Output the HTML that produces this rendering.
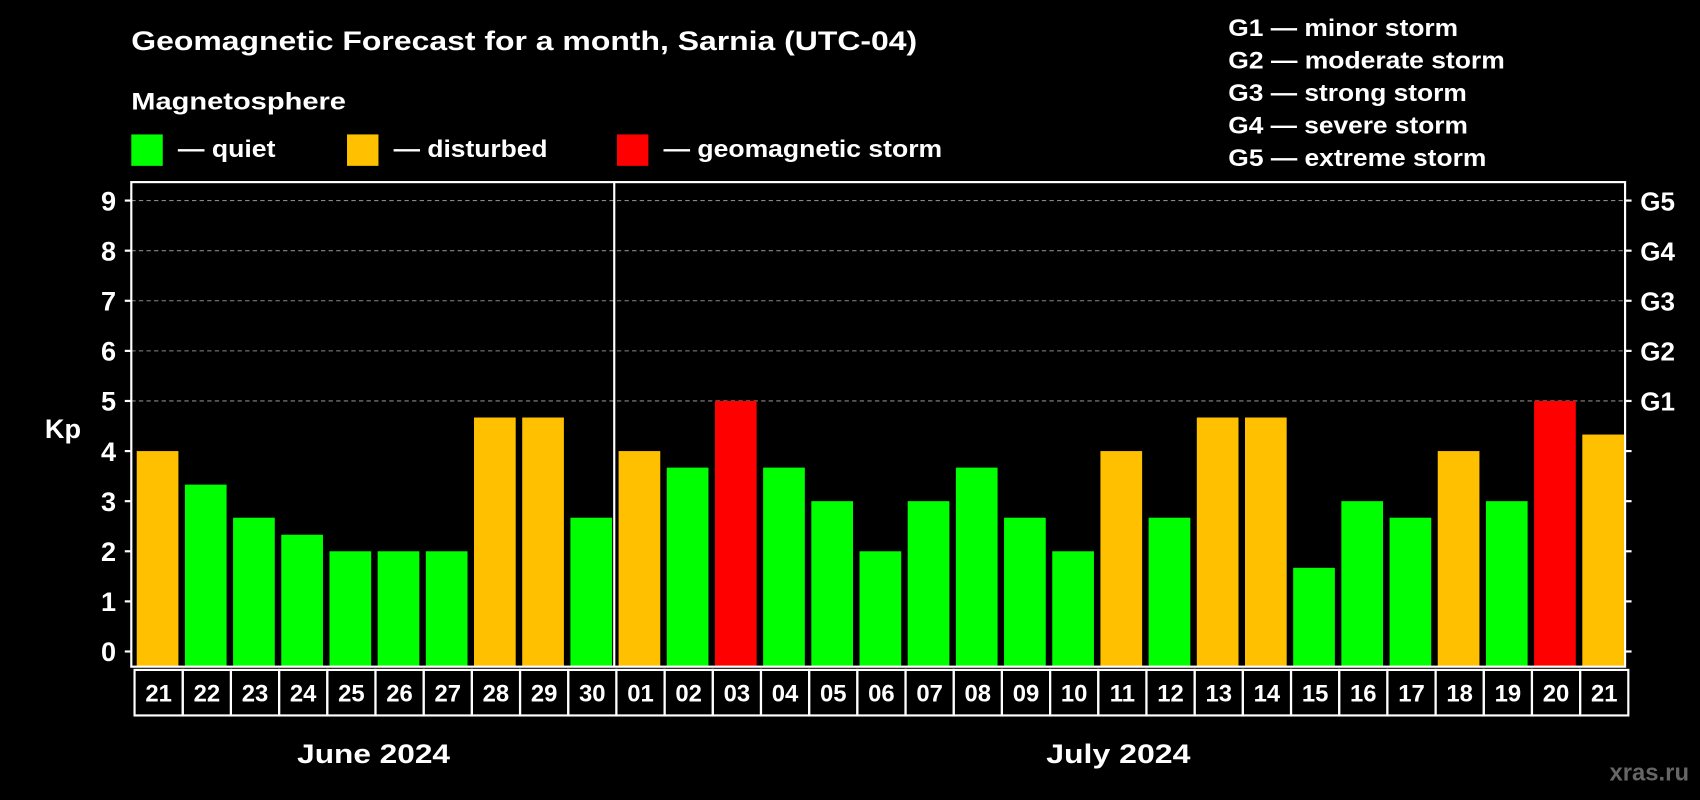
<!DOCTYPE html>
<html><head><meta charset="utf-8"><style>html,body{margin:0;padding:0;background:#000;}svg{display:block;font-family:"Liberation Sans",sans-serif;font-weight:bold;}</style></head>
<body>
<svg id="c" width="1700" height="800" viewBox="0 0 1568 738">
<rect width="1568" height="738" fill="#000"/>
<text x="121" y="46" fill="#fff" font-size="25" textLength="725" lengthAdjust="spacingAndGlyphs">Geomagnetic Forecast for a month, Sarnia (UTC-04)</text>
<text x="121" y="101" fill="#fff" font-size="22" textLength="198" lengthAdjust="spacingAndGlyphs">Magnetosphere</text>
<g><rect x="121" y="124" width="29" height="29" fill="#00ff00"/><text x="164" y="145" fill="#fff" font-size="22" textLength="90" lengthAdjust="spacingAndGlyphs">— quiet</text></g>
<g><rect x="320" y="124" width="29" height="29" fill="#ffc000"/><text x="363" y="145" fill="#fff" font-size="22" textLength="142" lengthAdjust="spacingAndGlyphs">— disturbed</text></g>
<g><rect x="569" y="124" width="29" height="29" fill="#ff0000"/><text x="612" y="145" fill="#fff" font-size="22" textLength="257" lengthAdjust="spacingAndGlyphs">— geomagnetic storm</text></g>
<g fill="#fff" font-size="22">
<text x="1133" y="33" textLength="212" lengthAdjust="spacingAndGlyphs">G1 — minor storm</text><text x="1133" y="63" textLength="255" lengthAdjust="spacingAndGlyphs">G2 — moderate storm</text><text x="1133" y="93" textLength="220" lengthAdjust="spacingAndGlyphs">G3 — strong storm</text><text x="1133" y="123" textLength="221" lengthAdjust="spacingAndGlyphs">G4 — severe storm</text><text x="1133" y="153" textLength="238" lengthAdjust="spacingAndGlyphs">G5 — extreme storm</text></g>
<text x="58" y="404" fill="#fff" font-size="25" text-anchor="middle">Kp</text>
<g id="plot"></g>
<text x="274" y="704" fill="#fff" font-size="25" textLength="141" lengthAdjust="spacingAndGlyphs">June 2024</text>
<text x="965" y="704" fill="#fff" font-size="25" textLength="133" lengthAdjust="spacingAndGlyphs">July 2024</text>
<text x="1558" y="720" fill="#666" font-size="22" text-anchor="end">xras.ru</text>
</svg>
<script>
const days=["21","22","23","24","25","26","27","28","29","30","01","02","03","04","05","06","07","08","09","10","11","12","13","14","15","16","17","18","19","20","21"];
const kp=[4,3.33,2.67,2.33,2,2,2,4.67,4.67,2.67,4,3.67,5,3.67,3,2,3,3.67,2.67,2,4,2.67,4.67,4.67,1.67,3,2.67,4,3,5,4.33];
const yTicks=[0,1,2,3,4,5,6,7,8,9];
const gLabels=["G1","G2","G3","G4","G5"];
const NS="http://www.w3.org/2000/svg";
const g=document.getElementById('plot');
const L=121,R=1499,T=168,B=615;
const y=v=>601-v*46.22;
const bw=(R-L)/days.length;
const x=i=>L+i*bw;
function mk(t,a,txt){const e=document.createElementNS(NS,t);for(const k in a)e.setAttribute(k,a[k]);if(txt!==undefined)e.textContent=txt;g.appendChild(e);return e;}
yTicks.forEach(v=>{
 if(v>=5){const gl=mk('line',{x1:L,x2:R,y1:y(v),y2:y(v),stroke:'#888','stroke-dasharray':'4,3'});
 
 }
 mk('line',{x1:L-6,x2:L,y1:y(v),y2:y(v),stroke:'#fff','stroke-width':2});
 mk('line',{x1:R,x2:R+6,y1:y(v),y2:y(v),stroke:'#fff','stroke-width':2});
 const t=mk('text',{x:L-14,y:y(v)+9,fill:'#fff','font-size':25,'text-anchor':'end'},String(v));
 
 
});
gLabels.forEach((s,i)=>{const t=mk('text',{x:R+14,y:y(5+i)+9,fill:'#fff','font-size':24},s);
 
 });
kp.forEach((v,i)=>{
 const c=v>=5?'#ff0000':(v>=4?'#ffc000':'#00ff00');
 const r=mk('rect',{x:x(i)+5,y:y(v),width:bw-6,height:B-y(v),fill:c});
 
 
 mk('rect',{x:x(i)+3,y:618,width:bw,height:42,fill:'none',stroke:'#fff','stroke-width':2});
 const t=mk('text',{x:x(i)+3+bw/2,y:647,fill:'#fff','font-size':22,'text-anchor':'middle'},days[i]);
 
 
});
mk('rect',{x:L,y:T,width:R-L,height:B-T,fill:'none',stroke:'#fff','stroke-width':2});
mk('line',{x1:x(10)+1,x2:x(10)+1,y1:T,y2:B,stroke:'#fff','stroke-width':2});
</script>
</body></html>
